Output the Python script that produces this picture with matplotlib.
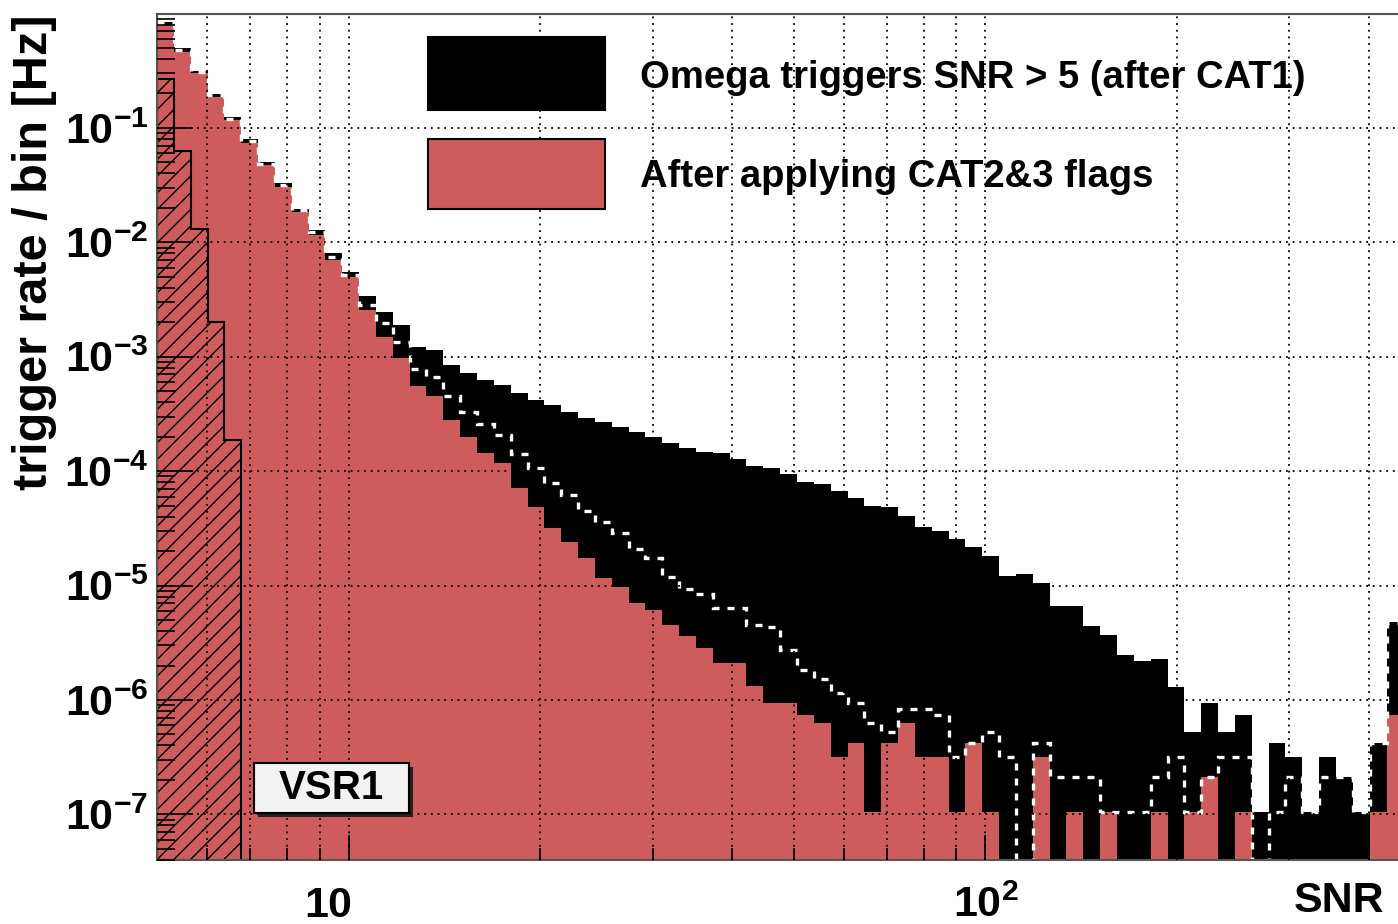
import numpy as np
import matplotlib
matplotlib.use("Agg")
import matplotlib.pyplot as plt
import matplotlib.transforms as mtransforms
from matplotlib.patches import Rectangle
from matplotlib.ticker import FixedLocator, LogLocator, NullFormatter, FuncFormatter

plt.rcParams["font.family"] = ["Liberation Sans", "DejaVu Sans"]
plt.rcParams["font.weight"] = "bold"
plt.rcParams["mathtext.fontset"] = "custom"
plt.rcParams["mathtext.rm"] = "Liberation Sans:bold"
plt.rcParams["mathtext.bf"] = "Liberation Sans:bold"
plt.rcParams["mathtext.it"] = "Liberation Sans:bold"
plt.rcParams["hatch.linewidth"] = 1.0

# Log-spaced SNR binning: 87 bins from 5 to 1000
SNR_MIN, SNR_MAX, N_BINS = 5.0, 1000.0, 87

# Trigger rate per bin [Hz] for the first 74 bins (SNR 5 .. ~440)
cat1_rate = [
    0.85, 0.50, 0.314, 0.197, 0.124, 0.0795, 0.050, 0.0328, 0.0195, 0.0128,
    0.0080, 0.0055, 3.4e-3, 2.47e-3, 1.89e-3, 1.22e-3, 1.15e-3, 8.5e-4, 7.2e-4, 6.25e-4,
    5.66e-4, 4.79e-4, 4.18e-4, 3.8e-4, 3.3e-4, 2.89e-4, 2.7e-4, 2.44e-4, 2.21e-4, 2.0e-4,
    1.75e-4, 1.58e-4, 1.48e-4, 1.43e-4, 1.27e-4, 1.11e-4, 1.06e-4, 9.4e-5, 8.1e-5, 7.7e-5,
    6.7e-5, 5.8e-5, 4.95e-5, 4.85e-5, 4.05e-5, 3.26e-5, 3.0e-5, 2.55e-5, 2.18e-5, 1.81e-5,
    1.21e-5, 1.26e-5, 1.06e-5, 6.6e-6, 6.6e-6, 4.4e-6, 3.7e-6, 2.47e-6, 2.2e-6, 2.3e-6,
    1.3e-6, 5.25e-7, 9.45e-7, 5.25e-7, 7.35e-7, 1.05e-7, 4.2e-7, 3.15e-7, 1.05e-7, 3.15e-7,
    2.1e-7, 1.05e-7, 4.2e-7, 4.8e-6,
]
cat23_rate = [
    0.79, 0.464, 0.30, 0.1875, 0.117, 0.0738, 0.0474, 0.0306, 0.0185, 0.0116,
    0.0070, 0.0050, 2.56e-3, 1.49e-3, 9.7e-4, 5.5e-4, 4.5e-4, 2.8e-4, 2.0e-4, 1.45e-4,
    1.17e-4, 7.1e-5, 4.9e-5, 3.2e-5, 2.4e-5, 1.73e-5, 1.16e-5, 9.8e-6, 7.0e-6, 6.1e-6,
    4.5e-6, 3.6e-6, 2.83e-6, 2.1e-6, 2.1e-6, 1.32e-6, 9.45e-7, 9.45e-7, 7.35e-7, 6.3e-7,
    3.15e-7, 4.2e-7, 1.05e-7, 4.2e-7, 6.3e-7, 3.15e-7, 3.15e-7, 1.05e-7, 4.2e-7, 1.05e-7,
    0, 0, 3.15e-7, 0, 1.05e-7, 0, 1.05e-7, 0, 0, 1.05e-7,
    0, 1.05e-7, 2.1e-7, 0, 1.05e-7, 0, 0, 0, 0, 0,
    0, 0, 1.05e-7, 7.35e-7,
]
cat2_rate = [
    0.82, 0.48, 0.307, 0.192, 0.120, 0.0766, 0.0487, 0.0317, 0.0190, 0.0122,
    0.0075, 0.0052, 2.83e-3, 1.98e-3, 1.35e-3, 7.8e-4, 6.7e-4, 4.5e-4, 3.27e-4, 2.58e-4,
    2.07e-4, 1.41e-4, 1.06e-4, 7.8e-5, 6.2e-5, 4.5e-5, 3.6e-5, 2.86e-5, 2.1e-5, 1.73e-5,
    1.19e-5, 9.3e-6, 8.5e-6, 6.4e-6, 6.3e-6, 4.5e-6, 4.3e-6, 2.73e-6, 1.83e-6, 1.51e-6,
    1.16e-6, 9.45e-7, 6.3e-7, 5.25e-7, 8.4e-7, 8.4e-7, 7.35e-7, 3.15e-7, 4.2e-7, 5.25e-7,
    3.15e-7, 0, 4.2e-7, 2.1e-7, 2.1e-7, 2.1e-7, 1.05e-7, 1.05e-7, 1.05e-7, 2.1e-7,
    3.15e-7, 1.05e-7, 2.1e-7, 3.15e-7, 3.15e-7, 0, 1.05e-7, 2.1e-7, 1.05e-7, 2.1e-7,
    2.1e-7, 1.05e-7, 4.2e-7, 4.7e-6,
]
# Low-SNR region (first five bins), hatched
lowsnr_rate = [0.27, 0.063, 0.013, 2.0e-3, 1.87e-4]

legend_labels = ["Omega triggers SNR > 5 (after CAT1)", "After applying CAT2&3 flags"]
run_label = "VSR1"
ytick_exponents = [-7, -6, -5, -4, -3, -2, -1]

RED = "#CE5C5C"
FLOOR = 1e-9

edges_all = np.logspace(np.log10(SNR_MIN), np.log10(SNR_MAX), N_BINS + 1)


def stair_values(vals):
    v = np.asarray(vals, dtype=float)
    return np.where(v > 0, v, FLOOR)


fig = plt.figure(figsize=(13.98, 9.24), dpi=100)
ax = fig.add_axes([157 / 1398, 1 - 860 / 924, 1273.6 / 1398, 846 / 924])
ax.set_xscale("log")
ax.set_yscale("log")

n = len(cat1_rate)
edges = edges_all[: n + 1]
ax.stairs(stair_values(cat1_rate), edges, fill=True, baseline=FLOOR,
          color="black", linewidth=0, zorder=1.0)
ax.stairs(stair_values(cat23_rate), edges, fill=True, baseline=FLOOR,
          color=RED, linewidth=0, zorder=1.1)
ax.stairs(stair_values(lowsnr_rate), edges_all[: len(lowsnr_rate) + 1], fill=True,
          baseline=FLOOR, facecolor="none", edgecolor="black", hatch="//",
          linewidth=1.5, zorder=1.2)
ax.stairs(stair_values(cat2_rate), edges, baseline=None, color="white",
          linewidth=2.4, linestyle=(0, (2.1, 2.4)), zorder=1.3)

ax.set_xlim(5, 500)
ax.set_ylim(3.99e-8, 0.99)

# Axes styling
for side in ["left", "bottom", "top", "right"]:
    ax.spines[side].set_color("#555555")
    ax.spines[side].set_linewidth(1.5)
ax.spines["right"].set_visible(False)

ax.xaxis.set_major_locator(FixedLocator([10, 100]))
ax.xaxis.set_minor_locator(FixedLocator([6, 7, 8, 9, 20, 30, 40, 50, 60, 70, 80, 90,
                                         200, 300, 400]))
ax.xaxis.set_major_formatter(NullFormatter())
ax.xaxis.set_minor_formatter(NullFormatter())
ax.yaxis.set_major_locator(FixedLocator([10.0 ** e for e in ytick_exponents]))
ax.yaxis.set_minor_locator(LogLocator(base=10, subs=np.arange(2, 10), numticks=30))
ax.yaxis.set_major_formatter(
    FuncFormatter(lambda v, pos: r"$\mathbf{10^{%d}}$" % int(round(np.log10(v)))))
ax.yaxis.set_minor_formatter(NullFormatter())

ax.tick_params(which="both", direction="in", top=False, right=False,
               color="black", width=1.2)
ax.tick_params(axis="y", which="major", length=26, labelsize=31, pad=6)
ax.tick_params(axis="y", which="minor", length=13)
ax.tick_params(axis="x", which="major", length=18)
ax.tick_params(axis="x", which="minor", length=9)

ax.set_axisbelow(False)
grid_style = dict(color="black", linestyle=(0, (1, 2.7)), linewidth=1.3)
ax.grid(True, axis="x", which="both", **grid_style)
ax.grid(True, axis="y", which="major", **grid_style)

# x tick labels
xlab_tr = mtransforms.blended_transform_factory(ax.transData, ax.transAxes)
shift = mtransforms.ScaledTranslation(3 / 100, 0, fig.dpi_scale_trans)
ax.text(10, -0.0675, "10", transform=xlab_tr + shift, ha="right", va="baseline",
        fontsize=31, fontweight="bold", clip_on=False)
ax.text(100, -0.0675, r"$\mathbf{10^{2}}$", transform=xlab_tr, ha="center",
        va="baseline", fontsize=31, clip_on=False)
fig.text(1294 / 1398, 1 - 912 / 924, "SNR", ha="left", va="baseline",
         fontsize=31, fontweight="bold")
fig.text(35 / 1398, 1 - 252 / 924, "trigger rate / bin [Hz]", rotation=90,
         ha="center", va="center", fontsize=35, fontweight="bold")

# Legend entries
box_x0, box_w = (428 - 157) / 1273.6, (605 - 428) / 1273.6
legend_boxes = [((860 - 110) / 846, (110 - 37) / 846, "black"),
                ((860 - 209) / 846, (209 - 139) / 846, RED)]
text_baselines = [(860 - 88) / 846, (860 - 187) / 846]
for (y0, h, col), lab, yb in zip(legend_boxes, legend_labels, text_baselines):
    ax.add_patch(Rectangle((box_x0, y0), box_w, h, transform=ax.transAxes,
                           facecolor=col, edgecolor="black", linewidth=1.5,
                           zorder=5, clip_on=False))
    ax.text((640 - 157) / 1273.6, yb, lab, transform=ax.transAxes, ha="left",
            va="baseline", fontsize=27.5, fontweight="bold", zorder=6)

# Run label with drop shadow
bx0, by0 = (254 - 157) / 1273.6, (860 - 813) / 846
bw, bh = (409 - 254) / 1273.6, (813 - 763) / 846
ax.add_patch(Rectangle((bx0 + 4 / 1273.6, by0 - 4 / 846), bw, bh, transform=ax.transAxes,
                       facecolor="#222222", edgecolor="none", zorder=5))
ax.add_patch(Rectangle((bx0, by0), bw, bh, transform=ax.transAxes,
                       facecolor="#f2f2f2", edgecolor="black", linewidth=1.5, zorder=6))
ax.text(bx0 + bw / 2, by0 + bh / 2, run_label, transform=ax.transAxes, ha="center",
        va="center", fontsize=29, fontweight="bold", zorder=7)

fig.savefig("out.png", dpi=100)
